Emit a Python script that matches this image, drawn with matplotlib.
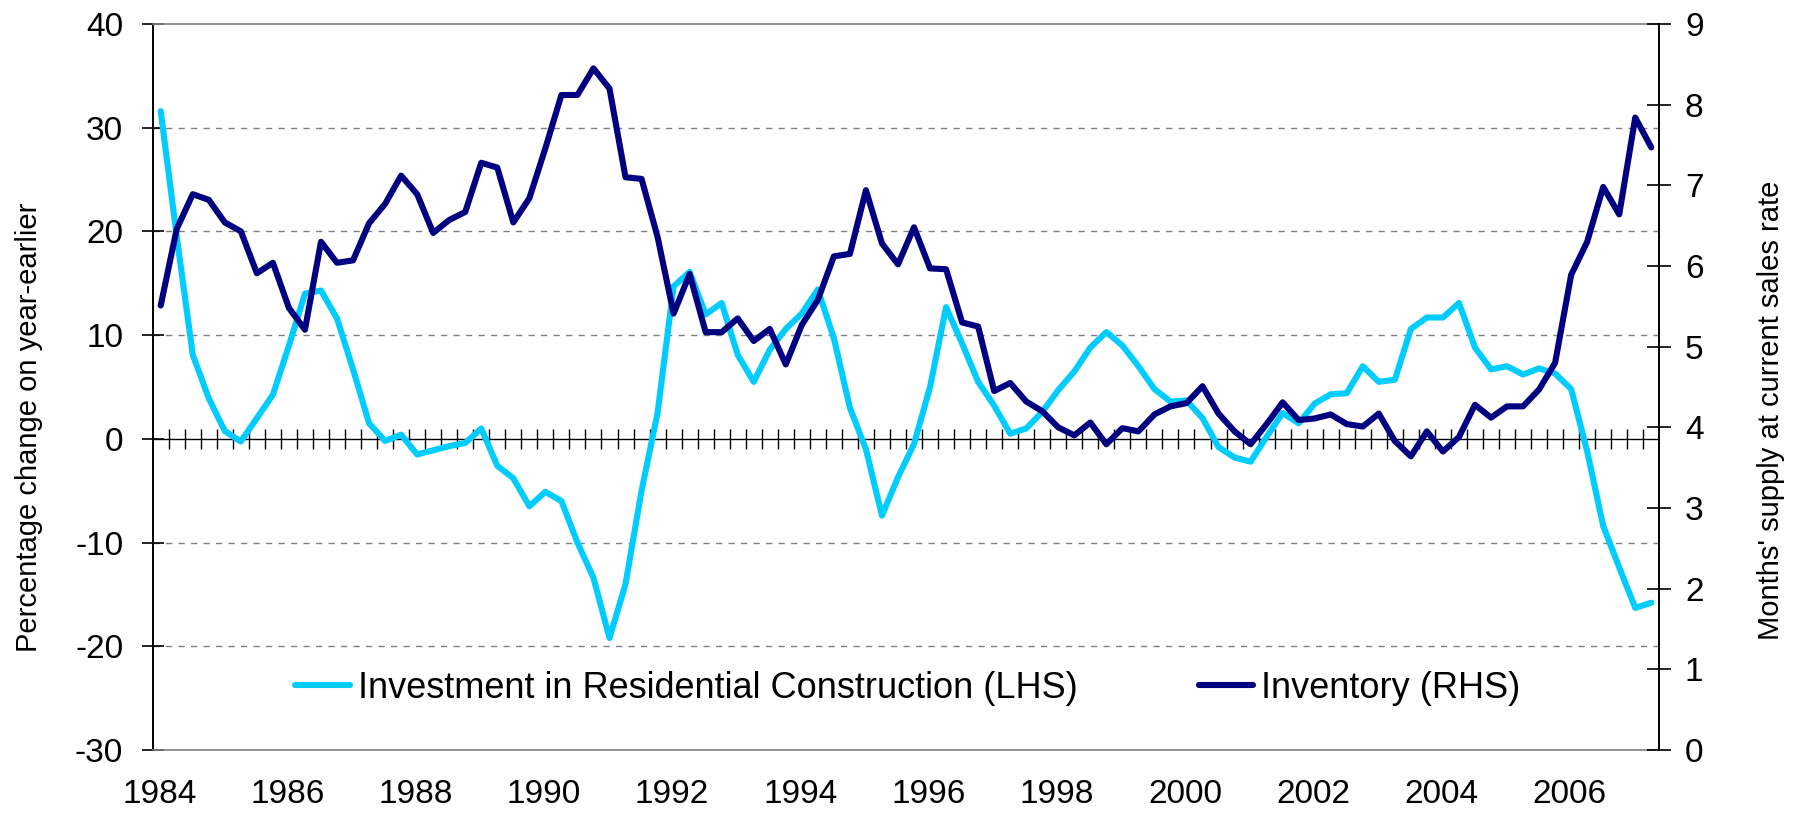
import numpy as np
import matplotlib
matplotlib.use("Agg")
import matplotlib.pyplot as plt
import matplotlib.transforms as mtransforms

plt.rcParams['font.family'] = ['Liberation Sans', 'DejaVu Sans']

# quarterly data, 1984Q1 .. 2007Q2
start_year = 1984
investment = [
    31.6, 19.5, 8.1, 3.9, 0.75, -0.25, 2.0, 4.25, 9.0, 14.0,
    14.3, 11.6, 6.7, 1.5, -0.2, 0.4, -1.5, -1.1, -0.7, -0.4,
    1.0, -2.6, -3.8, -6.5, -5.1, -6.0, -10.0, -13.4, -19.2, -14.0,
    -5.0, 2.5, 14.7, 16.1, 12.0, 13.1, 8.1, 5.5, 8.6, 10.6,
    12.1, 14.4, 9.7, 3.0, -1.0, -7.4, -3.7, -0.5, 5.0, 12.7,
    9.2, 5.5, 3.2, 0.5, 1.0, 2.6, 4.7, 6.5, 8.8, 10.3,
    9.0, 7.0, 4.8, 3.6, 3.7, 2.0, -0.8, -1.8, -2.2, 0.2,
    2.5, 1.5, 3.4, 4.3, 4.4, 7.0, 5.5, 5.7, 10.6, 11.7,
    11.7, 13.1, 8.8, 6.7, 7.0, 6.2, 6.8, 6.3, 4.8, -1.2,
    -8.4, -12.4, -16.3, -15.8,
]
inventory = [
    5.51, 6.46, 6.89, 6.82, 6.54, 6.43, 5.91, 6.04, 5.48, 5.21,
    6.30, 6.04, 6.07, 6.53, 6.77, 7.12, 6.89, 6.41, 6.57, 6.67,
    7.28, 7.22, 6.54, 6.84, 7.46, 8.12, 8.12, 8.45, 8.20, 7.10,
    7.08, 6.36, 5.41, 5.90, 5.18, 5.18, 5.35, 5.07, 5.22, 4.78,
    5.27, 5.58, 6.12, 6.15, 6.94, 6.28, 6.02, 6.48, 5.97, 5.96,
    5.30, 5.25, 4.45, 4.55, 4.32, 4.20, 4.00, 3.90, 4.06, 3.79,
    3.99, 3.95, 4.16, 4.26, 4.30, 4.51, 4.17, 3.95, 3.79, 4.04,
    4.31, 4.09, 4.11, 4.16, 4.04, 4.01, 4.17, 3.83, 3.64, 3.95,
    3.70, 3.88, 4.28, 4.12, 4.26, 4.26, 4.47, 4.80, 5.89, 6.30,
    6.98, 6.64, 7.84, 7.47,
]
year_ticks = list(range(1984, 2007, 2))
left_ticks = [-30, -20, -10, 0, 10, 20, 30, 40]
right_ticks = list(range(0, 10))

label_lhs = "Investment in Residential Construction (LHS)"
label_rhs = "Inventory (RHS)"

n = len(investment)
x = start_year + (np.arange(n) + 0.5) / 4.0  # centre of each quarter
x_end = start_year + n / 4.0

W, H = 1797, 815
fig = plt.figure(figsize=(W / 100, H / 100), dpi=100)
ax = fig.add_axes([152.7 / W, 1 - 750 / H, (1659.3 - 152.7) / W, 726 / H])
ax2 = ax.twinx()

light = '#00CCFF'
navy = '#000080'
grid_c = '#808080'

l1, = ax.plot(x, investment, color=light, lw=4.4, solid_joinstyle='round',
              solid_capstyle='round', label=label_lhs, zorder=3)
l2, = ax2.plot(x, inventory, color=navy, lw=4.4, solid_joinstyle='round',
               solid_capstyle='round', label=label_rhs, zorder=3)

ax.set_xlim(start_year, x_end)
ax.set_ylim(-30, 40)
ax2.set_ylim(0, 9)

for v in left_ticks:
    if v in (-30, 0, 40):
        continue
    ax.axhline(v, color=grid_c, lw=1, dashes=(4.5, 4.5), zorder=1)
ax.axhline(0, color='black', lw=1, zorder=2)

# spines
for s in ('top', 'bottom'):
    ax.spines[s].set_color(grid_c)
    ax.spines[s].set_linewidth(1.2)
    ax2.spines[s].set_visible(False)
ax.spines['left'].set_linewidth(1.4)
ax2.spines['right'].set_linewidth(1.4)
ax2.spines['left'].set_visible(False)
ax.spines['right'].set_visible(False)

# year labels on bottom, no tick marks
ax.set_xticks(year_ticks)
ax.set_xticklabels([str(y) for y in year_ticks])
ax.tick_params(axis='x', length=0, pad=21, labelsize=24)
shift = mtransforms.ScaledTranslation(6.5 / 100, 0, fig.dpi_scale_trans)
for lab in ax.get_xticklabels():
    lab.set_transform(lab.get_transform() + shift)

# quarter ticks crossing the zero line
sec = ax.secondary_xaxis(30 / 70)
sec.set_xticks(np.arange(start_year + 0.25, x_end, 0.25))
sec.tick_params(axis='x', direction='inout', length=15, width=1, color='black',
                labelbottom=False, labeltop=False)
sec.spines['bottom'].set_visible(False)
sec.spines['top'].set_visible(False)

ax.set_yticks(left_ticks)
ax.set_yticklabels([str(v) for v in left_ticks])
ax.tick_params(axis='y', direction='inout', length=16.5, width=1.2, pad=13, labelsize=24)
ax2.set_yticks(right_ticks)
ax2.set_yticklabels([str(v) for v in right_ticks])
ax2.tick_params(axis='y', direction='inout', length=17, width=1.2, pad=10, labelsize=24)

narrow = ['Liberation Sans Narrow', 'Liberation Sans', 'DejaVu Sans']
fig.text(29 / W, 1 - 427 / H, "Percentage change on year-earlier", rotation=90,
         ha='center', va='center', fontsize=21, family=narrow)
fig.text(1771 / W, 1 - 410 / H, "Months' supply at current sales rate", rotation=90,
         ha='center', va='center', fontsize=21, family=narrow)

leg = ax2.legend([l1, l2], [label_lhs, label_rhs], loc='center left',
                 bbox_to_anchor=(295 / W, 1 - 688 / H), bbox_transform=fig.transFigure,
                 ncol=2, frameon=False, borderpad=0, borderaxespad=0, fontsize=26,
                 handlelength=1.52, handletextpad=0.22, columnspacing=3.35)

fig.savefig("out.png", dpi=100)
